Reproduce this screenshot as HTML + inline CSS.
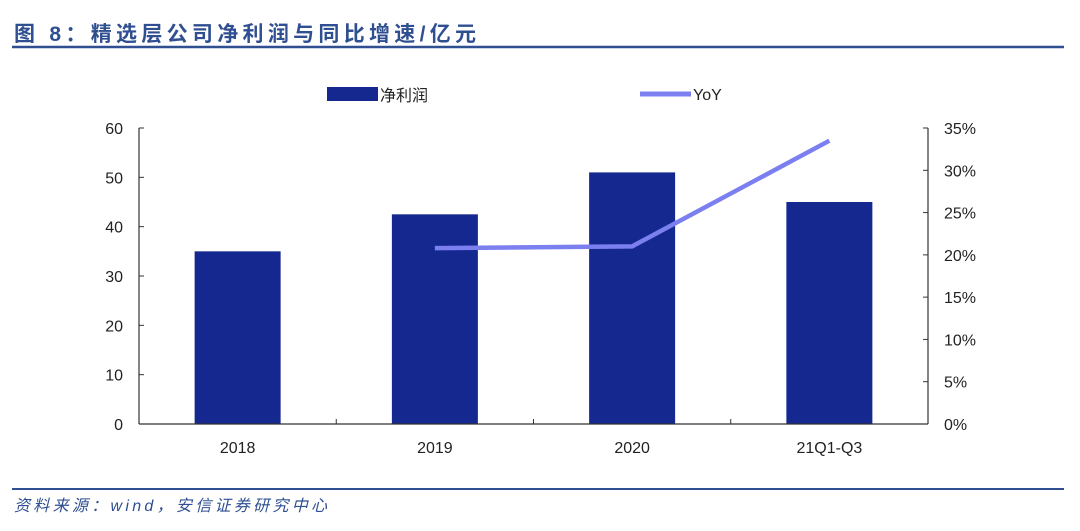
<!DOCTYPE html>
<html><head><meta charset="utf-8"><style>
body{margin:0;background:#fff;width:1080px;height:526px;overflow:hidden;font-family:"Liberation Sans","Noto Sans CJK SC",sans-serif}
svg text{font-family:"Liberation Sans","Noto Sans CJK SC",sans-serif}
</style></head><body>
<svg width="1080" height="526">
<text x="14" y="41" font-size="21" font-weight="bold" fill="#2f4f91" letter-spacing="4.3">图 8：精选层公司净利润与同比增速/亿元</text>
<line x1="12" y1="47" x2="1064" y2="47" stroke="#2f4f91" stroke-width="2.5"/>
<rect x="327" y="87" width="51" height="14" fill="#14288f"/>
<text x="380" y="101" font-size="16" fill="#222">净利润</text>
<line x1="640" y1="94" x2="691" y2="94" stroke="#7b7ff0" stroke-width="5"/>
<text x="693" y="100" font-size="16" fill="#222">YoY</text>
<g id="plot"></g>
<line x1="12" y1="489" x2="1064" y2="489" stroke="#2f4f91" stroke-width="2"/>
<text x="14" y="511" font-size="16" font-style="italic" fill="#2f4f91" letter-spacing="3.3">资料来源：wind，安信证券研究中心</text>
</svg>
<script>
const categories=["2018","2019","2020","21Q1-Q3"];
const profit=[35,42.5,51,45];
const yoy=[null,20.8,21.0,33.5];
const leftTicks=[0,10,20,30,40,50,60];
const rightTicks=[0,5,10,15,20,25,30,35];
const NS="http://www.w3.org/2000/svg";
const g=document.getElementById('plot');
const X0=139,X1=928,Y0=424,Y1=128;
const bw=(X1-X0)/categories.length;
const yL=v=>Y0-(v/60)*(Y0-Y1);
const yR=v=>Y0-(v/35)*(Y0-Y1);
const xc=i=>X0+bw*(i+0.5);
function mk(t,a){const e=document.createElementNS(NS,t);for(const k in a)e.setAttribute(k,a[k]);g.appendChild(e);return e;}
profit.forEach((v,i)=>{
const r=mk('rect',{x:xc(i)-43,y:yL(v),width:86,height:Y0-yL(v),fill:'#14288f'});


});
let ax=mk('line',{x1:X0,y1:Y1,x2:X0,y2:Y0,stroke:'#333','stroke-width':1.2});


ax=mk('line',{x1:X1,y1:Y1,x2:X1,y2:Y0,stroke:'#333','stroke-width':1.2});


ax=mk('line',{x1:X0,y1:Y0,x2:X1,y2:Y0,stroke:'#333','stroke-width':1.2});


leftTicks.forEach(v=>{
mk('line',{x1:X0,y1:yL(v),x2:X0+5,y2:yL(v),stroke:'#333'});
const t=mk('text',{x:X0-16,y:yL(v)+6,'font-size':16,fill:'#222','text-anchor':'end'});t.textContent=v;


});
rightTicks.forEach(v=>{
mk('line',{x1:X1-5,y1:yR(v),x2:X1,y2:yR(v),stroke:'#333'});
const t=mk('text',{x:X1+16,y:yR(v)+6,'font-size':16,fill:'#222'});t.textContent=v+'%';


});
categories.forEach((c,i)=>{
if(i>0)mk('line',{x1:X0+bw*i,y1:Y0-5,x2:X0+bw*i,y2:Y0,stroke:'#333'});
const t=mk('text',{x:xc(i),y:Y0+29,'font-size':16,fill:'#222','text-anchor':'middle'});t.textContent=c;


});
const pts=yoy.map((v,i)=>v==null?null:xc(i)+','+yR(v)).filter(p=>p);
const pl=mk('polyline',{points:pts.join(' '),fill:'none',stroke:'#7b7ff0','stroke-width':4.5,'stroke-linejoin':'round'});


</script>
</body></html>
